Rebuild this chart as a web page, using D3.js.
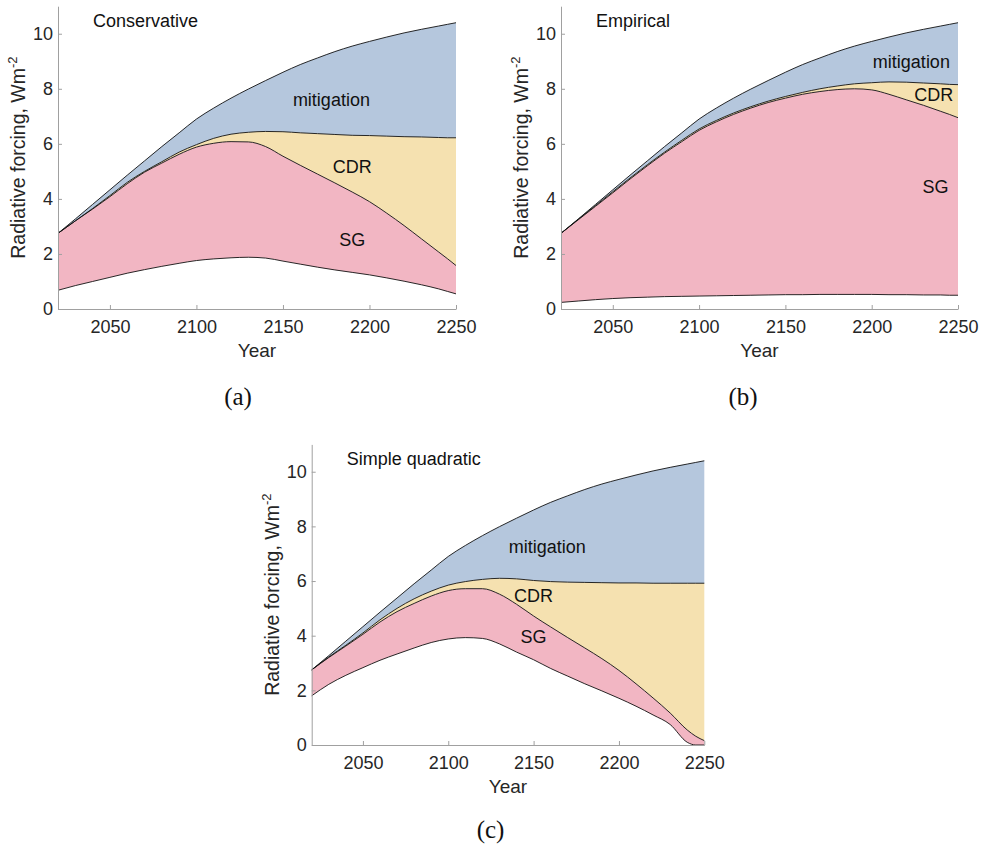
<!DOCTYPE html>
<html>
<head>
<meta charset="utf-8">
<script src="https://cdn.jsdelivr.net/npm/d3@7"></script>
<style>
  body { margin: 0; background: #fff; }
  svg { display: block; font-family: "Liberation Sans", Arial, Helvetica, sans-serif; }
</style>
</head>
<body>
<svg id="chart"></svg>
<script>
// shared x values
const years = [2020, 2030, 2040, 2050, 2060, 2070, 2080, 2090, 2100, 2110, 2120, 2130,
  2140, 2150, 2160, 2170, 2180, 2190, 2200, 2210, 2220, 2230, 2240, 2245, 2250];

// baseline forcing (top edge, same in every panel)
const total = [2.75, 3.27, 3.8, 4.33, 4.86, 5.38, 5.9, 6.4, 6.9, 7.3, 7.66, 7.99,
  8.3, 8.6, 8.88, 9.12, 9.35, 9.55, 9.72, 9.88, 10.03, 10.16, 10.28, 10.34, 10.4];

// (a) Conservative
const consMitig = [2.75, 3.2, 3.65, 4.12, 4.6, 5.0, 5.35, 5.7, 5.97, 6.2, 6.35, 6.42,
  6.45, 6.44, 6.4, 6.37, 6.34, 6.31, 6.3, 6.28, 6.26, 6.25, 6.23, 6.22, 6.22];
const consCdr = [2.75, 3.2, 3.63, 4.08, 4.55, 4.97, 5.3, 5.62, 5.88, 6.02, 6.08, 6.07,
  5.9, 5.55, 5.22, 4.9, 4.58, 4.25, 3.9, 3.48, 3.03, 2.55, 2.07, 1.83, 1.58];
const consSg = [0.68, 0.85, 1.0, 1.15, 1.3, 1.43, 1.55, 1.66, 1.76, 1.82, 1.86, 1.88,
  1.85, 1.74, 1.63, 1.52, 1.42, 1.33, 1.24, 1.13, 1.01, 0.88, 0.73, 0.64, 0.55];

// (b) Empirical
const empMitig = [2.75, 3.26, 3.76, 4.26, 4.76, 5.24, 5.7, 6.13, 6.54, 6.85, 7.12, 7.35,
  7.55, 7.72, 7.87, 8.0, 8.1, 8.18, 8.22, 8.25, 8.24, 8.21, 8.18, 8.16, 8.15];
const empCdr = [2.75, 3.24, 3.73, 4.22, 4.72, 5.2, 5.66, 6.08, 6.49, 6.8, 7.07, 7.3,
  7.5, 7.66, 7.8, 7.9, 7.97, 8.0, 7.96, 7.8, 7.6, 7.4, 7.18, 7.07, 6.95];
const empSg = [0.24, 0.29, 0.34, 0.38, 0.41, 0.43, 0.45, 0.46, 0.47, 0.48, 0.49, 0.5,
  0.51, 0.52, 0.52, 0.53, 0.53, 0.53, 0.53, 0.52, 0.52, 0.51, 0.51, 0.5, 0.5];

// (c) Simple quadratic
const quadMitig = [2.75, 3.22, 3.65, 4.1, 4.58, 5.0, 5.35, 5.63, 5.85, 5.98, 6.06, 6.1,
  6.08, 6.02, 5.98, 5.96, 5.95, 5.94, 5.93, 5.93, 5.92, 5.92, 5.92, 5.92, 5.92];
const quadCdr = [2.75, 3.2, 3.62, 4.05, 4.5, 4.88, 5.18, 5.45, 5.65, 5.72, 5.72, 5.52,
  5.15, 4.72, 4.32, 3.93, 3.55, 3.16, 2.73, 2.24, 1.72, 1.17, 0.55, 0.32, 0.16];
const quadSg = [1.8, 2.22, 2.55, 2.83, 3.1, 3.33, 3.55, 3.75, 3.88, 3.93, 3.9, 3.7,
  3.4, 3.12, 2.8, 2.52, 2.24, 1.98, 1.71, 1.42, 1.1, 0.75, 0.1, 0, 0];

const xTicks = [2050, 2100, 2150, 2200, 2250];
const yTicks = [0, 2, 4, 6, 8, 10];
const bandNames = ["mitigation", "CDR", "SG"];
const colors = {mitigation: "#b5c7dd", CDR: "#f5e1b0", SG: "#f2b6c3"};

const width = 988, height = 847;
const svg = d3.select("#chart").attr("width", width).attr("height", height);
svg.append("rect").attr("width", width).attr("height", height).attr("fill", "#fff");

function drawPanel(p) {
    const x = d3.scaleLinear().domain([2020, 2250]).range([p.left, p.right]);
    const y = d3.scaleLinear().domain([0, 11]).range([p.bottom, p.top]);
    const g = svg.append("g");

    const lines = [total, p.mitig, p.cdr, p.sg];
    const rows = years.map((yr, i) => ({yr: yr, v: lines.map(l => l[i])}));

    // bands: total->mitig, mitig->cdr, cdr->sg
    bandNames.forEach(function(name, k) {
        const area = d3.area()
            .curve(d3.curveMonotoneX)
            .x(d => x(d.yr))
            .y0(d => y(d.v[k + 1]))
            .y1(d => y(d.v[k]));
        g.append("path").datum(rows).attr("d", area).attr("fill", colors[name]);
    });

    lines.forEach(function(l) {
        const line = d3.line().curve(d3.curveMonotoneX)
            .x((d, i) => x(years[i])).y(d => y(d));
        g.append("path").datum(l).attr("d", line)
            .attr("fill", "none").attr("stroke", "#111").attr("stroke-width", 0.9);
    });

    // axes
    const xAxis = g.append("g")
        .attr("transform", "translate(0," + p.bottom + ")")
        .call(d3.axisBottom(x).tickValues(xTicks).tickSizeInner(-4).tickSizeOuter(0).tickPadding(11).tickFormat(d3.format("d")));
    const yAxis = g.append("g")
        .attr("transform", "translate(" + p.left + ",0)")
        .call(d3.axisLeft(y).tickValues(yTicks).tickSizeInner(-4).tickSizeOuter(0).tickPadding(5));
    [xAxis, yAxis].forEach(function(a) {
        a.select(".domain").attr("stroke", "#a0a0a0").attr("stroke-width", 1);
        a.selectAll(".tick line").attr("stroke", "#a0a0a0");
        a.selectAll(".tick text").attr("fill", "#262626").style("font-size", "18px");
    });

    g.append("text")
        .attr("x", (p.left + p.right) / 2).attr("y", p.bottom + 48)
        .attr("text-anchor", "middle").attr("fill", "#262626")
        .style("font-size", "19px").text("Year");

    const yl = g.append("text")
        .attr("transform", "translate(" + (p.left - 33) + "," + (p.top + p.bottom) / 2 + ") rotate(-90)")
        .attr("text-anchor", "middle").attr("fill", "#262626")
        .style("font-size", "19.5px");
    yl.append("tspan").text("Radiative forcing, Wm");
    yl.append("tspan").attr("dy", -8).style("font-size", "13px").text("-2");

    g.append("text")
        .attr("x", p.left + 35).attr("y", p.top + 21)
        .attr("fill", "#111").style("font-size", "18px").text(p.title);

    p.labels.forEach(function(lb, k) {
        g.append("text")
            .attr("x", x(lb[0])).attr("y", y(lb[1]))
            .attr("text-anchor", "middle").attr("fill", "#111")
            .style("font-size", "18px").text(bandNames[k]);
    });

    g.append("text")
        .attr("x", p.capX).attr("y", p.capY)
        .attr("text-anchor", "middle").attr("fill", "#111")
        .style("font-family", "'Liberation Serif', 'Times New Roman', serif")
        .style("font-size", "25px").text(p.caption);
}

drawPanel({left: 58, right: 456, top: 6.2, bottom: 309, title: "Conservative",
    mitig: consMitig, cdr: consCdr, sg: consSg,
    labels: [[2178, 7.37], [2190, 4.95], [2190, 2.3]],
    caption: "(a)", capX: 238, capY: 405});

drawPanel({left: 561, right: 958, top: 6.2, bottom: 309, title: "Empirical",
    mitig: empMitig, cdr: empCdr, sg: empSg,
    labels: [[2223, 8.77], [2236, 7.56], [2237, 4.22]],
    caption: "(b)", capX: 743, capY: 405});

drawPanel({left: 311.7, right: 704.3, top: 444.4, bottom: 745, title: "Simple quadratic",
    mitig: quadMitig, cdr: quadCdr, sg: quadSg,
    labels: [[2158, 7.04], [2150, 5.24], [2150, 3.72]],
    caption: "(c)", capX: 490.5, capY: 838});
</script>
</body>
</html>
